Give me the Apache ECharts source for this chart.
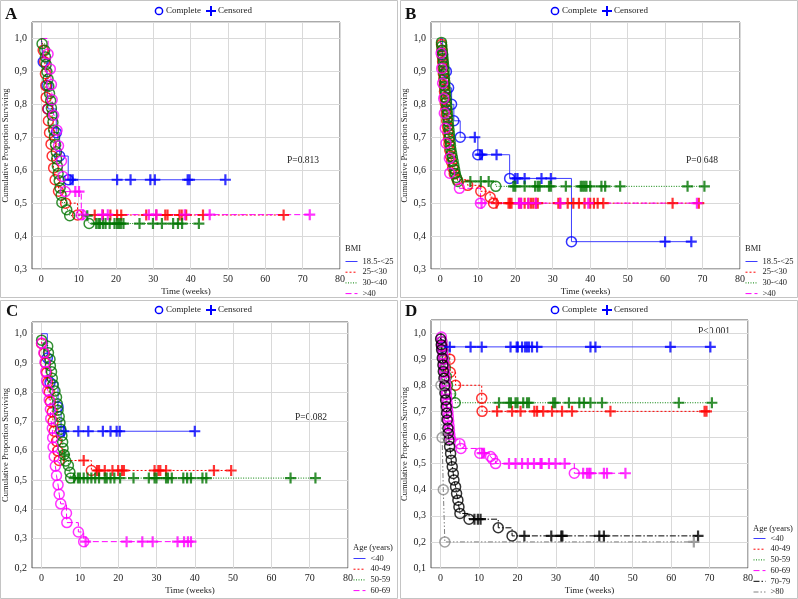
<!DOCTYPE html>
<html>
<head>
<meta charset="utf-8">
<style>
  html, body { margin: 0; padding: 0; background: #fff; }
  #main { width: 798px; height: 599px; }
</style>
<script src="https://cdn.jsdelivr.net/npm/echarts@6/dist/echarts.min.js"></script>
</head>
<body>
<div id="main"></div>
<script>
// ---- panel A : BMI ----
var aBlueEv  = [[0.5,0.929],[1.5,0.857],[1.8,0.786],[4.0,0.714],[4.9,0.643],[7.2,0.571]];
var aBlueCen = [[7.8,0.571],[8.4,0.571],[20.3,0.571],[23.9,0.571],[29.2,0.571],[30.4,0.571],[39.2,0.571],[39.7,0.571],[49.3,0.571]];
var aRedEv   = [[0.5,0.964],[0.9,0.929],[1.1,0.893],[1.2,0.857],[1.3,0.821],[1.7,0.786],[1.9,0.750],[2.2,0.714],[2.6,0.679],[2.9,0.643],[3.3,0.607],[3.7,0.571],[4.6,0.536],[6.5,0.500],[9.7,0.464]];
var aRedCen  = [[14.3,0.464],[16.5,0.464],[18.5,0.464],[20.3,0.464],[21.4,0.464],[28.1,0.464],[30.8,0.464],[33.2,0.464],[33.8,0.464],[37.0,0.464],[37.6,0.464],[38.8,0.464],[43.3,0.464],[64.9,0.464]];
var aGreenEv = [[0.2,0.984],[0.9,0.964],[1.1,0.944],[1.3,0.921],[1.5,0.899],[1.8,0.877],[2.0,0.855],[2.2,0.833],[2.5,0.811],[2.7,0.789],[2.9,0.767],[3.1,0.745],[3.3,0.722],[3.5,0.700],[3.8,0.678],[4.0,0.656],[4.1,0.634],[4.3,0.612],[4.5,0.590],[4.8,0.568],[5.0,0.546],[5.3,0.524],[5.5,0.502],[6.8,0.480],[7.6,0.462],[12.8,0.438]];
var aGreenCen = [[12.3,0.462],[14.7,0.438],[15.3,0.438],[15.7,0.438],[16.5,0.438],[17.2,0.438],[18.3,0.438],[19.6,0.438],[20.3,0.438],[20.8,0.438],[21.3,0.438],[22.0,0.438],[26.3,0.438],[29.9,0.438],[32.3,0.438],[35.3,0.438],[36.6,0.438],[37.7,0.438],[42.2,0.438]];
var aMagEv   = [[1.8,0.953],[2.4,0.907],[2.7,0.860],[2.9,0.814],[3.3,0.767],[4.2,0.721],[4.6,0.674],[5.4,0.628],[5.8,0.581],[6.4,0.535],[10.7,0.465]];
var aMagCen  = [[9.1,0.535],[10.1,0.535],[11.2,0.465],[16.3,0.465],[17.8,0.465],[28.8,0.465],[30.8,0.465],[38.4,0.465],[45.1,0.465],[71.9,0.465]];

// ---- panel B : BMI ----
var bBlueEv  = [[0.6,0.95],[1.6,0.90],[2.2,0.85],[3.0,0.80],[3.6,0.75],[5.3,0.70],[10.0,0.647],[18.5,0.575],[35.0,0.383]];
var bBlueCen = [[9.2,0.70],[10.6,0.647],[11.1,0.647],[15.0,0.647],[20.0,0.575],[20.6,0.575],[22.5,0.575],[27.0,0.575],[29.5,0.575],[60.0,0.383],[67.0,0.383]];
var bRedEv   = [[0.3,0.982],[0.4,0.964],[0.5,0.946],[0.6,0.929],[0.7,0.911],[0.8,0.893],[0.9,0.875],[1.0,0.857],[1.1,0.839],[1.2,0.821],[1.3,0.804],[1.5,0.786],[1.6,0.768],[1.7,0.750],[1.9,0.732],[2.0,0.714],[2.2,0.696],[2.3,0.679],[2.5,0.661],[2.7,0.643],[3.0,0.625],[3.3,0.607],[3.7,0.589],[4.5,0.571],[7.3,0.554],[10.8,0.536],[13.3,0.518],[14.2,0.500]];
var bRedCen  = [[15.0,0.5],[18.2,0.5],[18.6,0.5],[19.0,0.5],[21.0,0.5],[21.5,0.5],[22.5,0.5],[23.5,0.5],[24.2,0.5],[24.8,0.5],[25.5,0.5],[26.0,0.5],[31.5,0.5],[32.0,0.5],[34.0,0.5],[35.5,0.5],[37.0,0.5],[38.5,0.5],[40.0,0.5],[41.0,0.5],[42.0,0.5],[43.5,0.5],[62.0,0.5],[69.0,0.5]];
var bGreenEv = [[0.3,0.988],[0.4,0.976],[0.5,0.964],[0.6,0.952],[0.7,0.940],[0.8,0.928],[0.9,0.916],[1.0,0.904],[1.0,0.892],[1.1,0.880],[1.2,0.867],[1.2,0.855],[1.3,0.843],[1.4,0.831],[1.5,0.819],[1.6,0.807],[1.7,0.795],[1.8,0.783],[1.9,0.771],[2.0,0.759],[2.1,0.747],[2.2,0.735],[2.3,0.723],[2.4,0.711],[2.5,0.699],[2.6,0.687],[2.7,0.675],[2.8,0.663],[3.0,0.651],[3.2,0.639],[3.4,0.627],[3.6,0.614],[3.8,0.602],[4.0,0.590],[4.3,0.578],[4.7,0.566],[14.8,0.551]];
var bGreenCen = [[8.0,0.566],[10.8,0.566],[12.9,0.566],[19.5,0.551],[20.0,0.551],[22.5,0.551],[25.3,0.551],[26.0,0.551],[26.5,0.551],[29.0,0.551],[29.5,0.551],[33.5,0.551],[37.5,0.551],[38.0,0.551],[38.5,0.551],[39.0,0.551],[40.0,0.551],[43.0,0.551],[44.0,0.551],[48.0,0.551],[66.0,0.551],[70.5,0.551]];
var bMagEv   = [[0.2,0.955],[0.35,0.909],[0.6,0.864],[0.9,0.818],[1.05,0.773],[1.3,0.727],[1.5,0.682],[2.4,0.636],[2.5,0.591],[5.1,0.545],[10.7,0.500]];
var bMagCen  = [[11.0,0.5],[21.0,0.5],[21.6,0.5],[23.5,0.5],[25.5,0.5],[32.0,0.5],[39.5,0.5],[68.5,0.5]];

// ---- panel C : age ----
var cBlueEv  = [[1.5,0.917],[2.2,0.833],[4.3,0.750],[5.1,0.667]];
var cBlueCen = [[5.8,0.667],[9.6,0.667],[12.2,0.667],[16.0,0.667],[18.0,0.667],[19.6,0.667],[20.4,0.667],[40.0,0.667]];
var cRedEv   = [[0.0,0.967],[0.7,0.933],[1.0,0.900],[1.3,0.867],[1.6,0.833],[2.0,0.800],[2.3,0.767],[2.8,0.733],[3.0,0.700],[3.3,0.667],[3.9,0.633],[4.2,0.600],[4.6,0.567],[13.0,0.533]];
var cRedCen  = [[11.0,0.567],[14.5,0.533],[15.0,0.533],[16.5,0.533],[18.5,0.533],[20.0,0.533],[21.0,0.533],[21.5,0.533],[29.5,0.533],[30.5,0.533],[31.0,0.533],[32.5,0.533],[45.0,0.533],[49.5,0.533]];
var cGreenEv = [[0.0,0.978],[1.6,0.957],[1.8,0.935],[2.2,0.913],[2.3,0.891],[2.6,0.870],[2.8,0.848],[3.0,0.826],[3.5,0.804],[3.9,0.783],[4.1,0.761],[4.3,0.739],[4.6,0.717],[4.8,0.696],[5.0,0.674],[5.3,0.652],[5.5,0.630],[5.6,0.609],[5.9,0.587],[6.3,0.565],[7.0,0.550],[7.4,0.527],[7.6,0.507]];
var cGreenCen = [[6.0,0.587],[8.5,0.507],[9.5,0.507],[10.0,0.507],[11.0,0.507],[12.0,0.507],[13.0,0.507],[14.0,0.507],[15.0,0.507],[16.5,0.507],[17.0,0.507],[18.0,0.507],[19.0,0.507],[20.5,0.507],[24.0,0.507],[28.0,0.507],[29.5,0.507],[30.0,0.507],[32.5,0.507],[33.0,0.507],[34.0,0.507],[37.0,0.507],[38.0,0.507],[39.0,0.507],[42.0,0.507],[43.0,0.507],[65.0,0.507],[71.5,0.507]];
var cMagEv   = [[0.0,0.968],[0.6,0.935],[0.9,0.903],[1.1,0.871],[1.3,0.839],[1.6,0.806],[2.0,0.774],[2.3,0.742],[2.4,0.710],[2.8,0.677],[2.9,0.645],[3.0,0.613],[3.3,0.581],[3.6,0.548],[3.9,0.516],[4.3,0.484],[4.6,0.452],[5.0,0.419],[6.5,0.387],[6.6,0.355],[9.6,0.323],[11.0,0.290]];
var cMagCen  = [[11.5,0.29],[22.2,0.29],[26.3,0.29],[29.0,0.29],[35.5,0.29],[37.2,0.29],[38.2,0.29],[39.0,0.29]];

// ---- panel D : age ----
var dBlueEv  = [[0.4,0.947]];
var dBlueCen = [[2.4,0.947],[7.8,0.947],[10.7,0.947],[18.2,0.947],[19.8,0.947],[20.1,0.947],[21.2,0.947],[22.0,0.947],[22.5,0.947],[23.0,0.947],[23.8,0.947],[25.1,0.947],[39.0,0.947],[40.3,0.947],[59.8,0.947],[70.2,0.947]];
var dRedEv   = [[0.4,0.95],[2.4,0.90],[2.5,0.85],[3.9,0.80],[10.7,0.75],[10.8,0.70]];
var dRedCen  = [[14.7,0.7],[18.6,0.7],[20.8,0.7],[24.4,0.7],[25.1,0.7],[26.7,0.7],[29.0,0.7],[31.6,0.7],[34.2,0.7],[44.2,0.7],[68.7,0.7],[69.2,0.7]];
var dGreenEv = [[0.3,0.967],[0.6,0.933],[0.9,0.900],[1.2,0.867],[1.5,0.833],[1.8,0.800],[2.6,0.767],[3.8,0.733]];
var dGreenCen = [[15.2,0.733],[17.8,0.733],[18.3,0.733],[19.5,0.733],[20.0,0.733],[21.5,0.733],[22.5,0.733],[23.0,0.733],[29.3,0.733],[29.8,0.733],[33.4,0.733],[36.1,0.733],[37.3,0.733],[39.0,0.733],[42.0,0.733],[62.0,0.733],[70.6,0.733]];
var dMagEv   = [[0.2,0.985],[0.3,0.968],[0.4,0.951],[0.5,0.934],[0.6,0.917],[0.7,0.900],[0.8,0.883],[0.9,0.866],[1.0,0.849],[1.1,0.832],[1.2,0.815],[1.3,0.798],[1.4,0.781],[1.5,0.764],[1.6,0.747],[1.7,0.730],[1.8,0.713],[1.9,0.696],[2.0,0.679],[2.1,0.662],[2.2,0.645],[2.3,0.628],[2.4,0.611],[2.6,0.594],[5.0,0.576],[5.3,0.558],[10.2,0.540],[13.0,0.527],[13.5,0.518],[14.3,0.500],[34.8,0.463]];
var dMagCen  = [[10.8,0.54],[11.3,0.54],[17.8,0.5],[19.5,0.5],[21.2,0.5],[22.7,0.5],[24.3,0.5],[26.0,0.5],[26.3,0.5],[28.2,0.5],[29.9,0.5],[32.3,0.5],[37.1,0.463],[38.1,0.463],[38.6,0.463],[39.0,0.463],[42.5,0.463],[43.3,0.463],[48.1,0.463]];
var dBlackEv = [[0.0,0.977],[0.17,0.955],[0.26,0.936],[0.43,0.904],[0.6,0.878],[0.7,0.853],[0.87,0.827],[1.04,0.798],[1.13,0.770],[1.3,0.744],[1.47,0.718],[1.56,0.693],[1.73,0.667],[1.9,0.635],[2.0,0.616],[2.17,0.590],[2.34,0.565],[2.6,0.539],[2.77,0.513],[3.03,0.488],[3.3,0.462],[3.47,0.437],[3.9,0.411],[4.16,0.385],[4.5,0.360],[4.77,0.334],[5.03,0.309],[7.4,0.287],[15.0,0.254],[18.6,0.223]];
var dBlackCen = [[8.8,0.287],[9.7,0.287],[10.4,0.287],[21.8,0.223],[28.8,0.223],[31.4,0.223],[31.7,0.223],[41.3,0.223],[42.5,0.223],[67.0,0.223]];
var dGrayEv  = [[0.1,0.8],[0.4,0.6],[0.7,0.4],[1.1,0.2]];
var dGrayCen = [[65.9,0.2]];

var bmiNames = ['18.5-<25', '25-<30', '30-<40', '>40'];
var ageNames = ['<40', '40-49', '50-59', '60-69', '70-79', '>80'];
var xTicks = [0, 10, 20, 30, 40, 50, 60, 70, 80];
var pValues = ['P=0.813', 'P=0.648', 'P=0.082', 'P<0.001'];

var FONT = 'Liberation Serif';
var PLUS = 'path://M4,0H6V4H10V6H6V10H4V6H0V4H4Z';
var styles = {
  blue:    { line: '#3d3dff', mark: '#0000ff', dash: 'solid' },
  red:     { line: '#ff0000', mark: '#ff0000', dash: [2, 2] },
  green:   { line: '#008000', mark: '#007400', dash: [1, 1.5] },
  magenta: { line: '#ff00ff', mark: '#ff00ff', dash: [6, 3] },
  black:   { line: '#000000', mark: '#000000', dash: [6, 2, 1.5, 2] },
  gray:    { line: '#808080', mark: '#8a8a8a', dash: [5, 2, 1.5, 2, 1.5, 2] }
};

var grids = [
  { left: 32,  top: 22,  width: 308, height: 247, show: true, borderColor: '#555', borderWidth: 1 },
  { left: 431, top: 22,  width: 309, height: 247, show: true, borderColor: '#555', borderWidth: 1 },
  { left: 32,  top: 322, width: 316, height: 246, show: true, borderColor: '#555', borderWidth: 1 },
  { left: 431, top: 320, width: 317, height: 248, show: true, borderColor: '#555', borderWidth: 1 }
];
var yMin = [0.3, 0.3, 0.2, 0.1];
var yMax = [1.05, 1.05, 1.04, 1.05];

var xAxes = [], yAxes = [];
grids.forEach(function (g, i) {
  xAxes.push({
    type: 'value', gridIndex: i, min: -2.5, max: 80, interval: 2.5,
    name: 'Time (weeks)', nameLocation: 'middle', nameGap: 18,
    nameTextStyle: { fontFamily: FONT, fontSize: 9, color: '#222' },
    axisLine: { show: false }, axisTick: { show: false },
    axisLabel: {
      fontFamily: FONT, fontSize: 10, color: '#222', margin: 5,
      formatter: function (v) { return xTicks.indexOf(Math.round(v * 100) / 100) >= 0 ? String(v) : ''; }
    },
    splitLine: { show: true, lineStyle: { color: ['rgba(0,0,0,0)', '#d9d9d9', 'rgba(0,0,0,0)', 'rgba(0,0,0,0)'], width: 1 } }
  });
  yAxes.push({
    type: 'value', gridIndex: i, min: yMin[i], max: yMax[i], interval: 0.1,
    name: 'Cumulative Proportion Surviving', nameLocation: 'middle', nameGap: 19,
    nameTextStyle: { fontFamily: FONT, fontSize: 8.5, color: '#222' },
    axisLine: { show: false }, axisTick: { show: false },
    axisLabel: {
      fontFamily: FONT, fontSize: 10, color: '#222', margin: 5,
      formatter: function (v) {
        var r = Math.round(v * 10);
        if (Math.abs(v * 10 - r) > 1e-6) return '';
        return (r / 10).toFixed(1).replace('.', ',');
      }
    },
    splitLine: { show: true, lineStyle: { color: '#d9d9d9', width: 1 } }
  });
});

var series = [];
function addGroup(gi, name, ev, cen, st) {
  var pts = [[0, 1]].concat(ev, cen).sort(function (a, b) { return a[0] - b[0]; });
  series.push({
    type: 'line', name: name, xAxisIndex: gi, yAxisIndex: gi, data: pts,
    step: 'end', symbol: 'none', silent: true, animation: false,
    lineStyle: { color: st.line, width: 1, type: st.dash }, itemStyle: { color: st.line }, z: 2
  });
  series.push({
    type: 'scatter', name: name + ' complete', xAxisIndex: gi, yAxisIndex: gi, data: ev,
    symbol: 'circle', symbolSize: 10, silent: true, animation: false,
    itemStyle: { color: 'rgba(0,0,0,0)', borderColor: st.mark, borderWidth: 1.5 }, z: 3
  });
  series.push({
    type: 'scatter', name: name + ' censored', xAxisIndex: gi, yAxisIndex: gi, data: cen,
    symbol: PLUS, symbolSize: 11, silent: true, animation: false,
    itemStyle: { color: st.mark }, z: 4
  });
}

addGroup(0, bmiNames[0], aBlueEv, aBlueCen, styles.blue);
addGroup(0, bmiNames[1], aRedEv, aRedCen, styles.red);
addGroup(0, bmiNames[2], aGreenEv, aGreenCen, styles.green);
addGroup(0, bmiNames[3], aMagEv, aMagCen, styles.magenta);

addGroup(1, bmiNames[0], bBlueEv, bBlueCen, styles.blue);
addGroup(1, bmiNames[1], bRedEv, bRedCen, styles.red);
addGroup(1, bmiNames[2], bGreenEv, bGreenCen, styles.green);
addGroup(1, bmiNames[3], bMagEv, bMagCen, styles.magenta);

addGroup(2, ageNames[0], cBlueEv, cBlueCen, styles.blue);
addGroup(2, ageNames[1], cRedEv, cRedCen, styles.red);
addGroup(2, ageNames[2], cGreenEv, cGreenCen, styles.green);
addGroup(2, ageNames[3], cMagEv, cMagCen, styles.magenta);

addGroup(3, ageNames[0], dBlueEv, dBlueCen, styles.blue);
addGroup(3, ageNames[1], dRedEv, dRedCen, styles.red);
addGroup(3, ageNames[2], dGreenEv, dGreenCen, styles.green);
addGroup(3, ageNames[3], dMagEv, dMagCen, styles.magenta);
addGroup(3, ageNames[4], dBlackEv, dBlackCen, styles.black);
addGroup(3, ageNames[5], dGrayEv, dGrayCen, styles.gray);

function groupLegend(names, left, top) {
  return {
    data: names, orient: 'vertical', left: left, top: top, padding: 0,
    itemWidth: 12, itemHeight: 8, itemGap: 1.7, selectedMode: false,
    itemStyle: { color: 'rgba(0,0,0,0)', borderWidth: 0, opacity: 0 },
    lineStyle: { width: 1 },
    textStyle: { fontFamily: FONT, fontSize: 8.5, color: '#222', lineHeight: 8 }
  };
}

// panel frames, letters, top marker legend, p-values, legend titles
var graphics = [];
var panels = [
  { fx: 0.5, fy: 0.5, fw: 397, fh: 297, letter: 'A', lx: 5, ly: 6, ox: 0, oy: 0, px: 287, py: 160 },
  { fx: 400.5, fy: 0.5, fw: 397, fh: 297, letter: 'B', lx: 405, ly: 6, ox: 396, oy: 0, px: 686, py: 160 },
  { fx: 0.5, fy: 300.5, fw: 397, fh: 298, letter: 'C', lx: 6, ly: 303, ox: 0, oy: 299, px: 295, py: 417 },
  { fx: 400.5, fy: 300.5, fw: 397, fh: 298, letter: 'D', lx: 405, ly: 303, ox: 396, oy: 299, px: 698, py: 331 }
];
panels.forEach(function (p, i) {
  graphics.push({ type: 'rect', shape: { x: p.fx, y: p.fy, width: p.fw, height: p.fh },
    style: { fill: 'none', stroke: '#c4c4c4', lineWidth: 1 }, silent: true });
  graphics.push({ type: 'text', x: p.lx, y: p.ly,
    style: { text: p.letter, fontFamily: FONT, fontSize: 17, fontWeight: 'bold', fill: '#111' } });
  var cy = 11 + p.oy;
  graphics.push({ type: 'circle', shape: { cx: 159 + p.ox, cy: cy, r: 3.6 },
    style: { fill: 'none', stroke: '#0000ff', lineWidth: 1.5 } });
  graphics.push({ type: 'text', x: 166 + p.ox, y: cy,
    style: { text: 'Complete', fontFamily: FONT, fontSize: 9, fill: '#222', verticalAlign: 'middle' } });
  graphics.push({ type: 'rect', shape: { x: 206 + p.ox, y: cy - 1, width: 10, height: 2 }, style: { fill: '#0000ff' } });
  graphics.push({ type: 'rect', shape: { x: 210 + p.ox, y: cy - 5, width: 2, height: 10 }, style: { fill: '#0000ff' } });
  graphics.push({ type: 'text', x: 218 + p.ox, y: cy,
    style: { text: 'Censored', fontFamily: FONT, fontSize: 9, fill: '#222', verticalAlign: 'middle' } });
  graphics.push({ type: 'text', x: p.px, y: p.py,
    style: { text: pValues[i], fontFamily: FONT, fontSize: 9.5, fill: '#222', verticalAlign: 'middle' } });
});
graphics.push({ type: 'text', x: 345, y: 249, style: { text: 'BMI', fontFamily: FONT, fontSize: 8.5, fill: '#222', verticalAlign: 'middle' } });
graphics.push({ type: 'text', x: 745, y: 249, style: { text: 'BMI', fontFamily: FONT, fontSize: 8.5, fill: '#222', verticalAlign: 'middle' } });
graphics.push({ type: 'text', x: 353, y: 548, style: { text: 'Age (years)', fontFamily: FONT, fontSize: 8.5, fill: '#222', verticalAlign: 'middle' } });
graphics.push({ type: 'text', x: 753, y: 529, style: { text: 'Age (years)', fontFamily: FONT, fontSize: 8.5, fill: '#222', verticalAlign: 'middle' } });

var chart = echarts.init(document.getElementById('main'), null, { renderer: 'canvas' });
chart.setOption({
  backgroundColor: '#ffffff',
  animation: false,
  grid: grids,
  xAxis: xAxes,
  yAxis: yAxes,
  legend: [
    groupLegend(bmiNames, 345, 257),
    groupLegend(bmiNames, 745, 257),
    groupLegend(ageNames.slice(0, 4), 353, 554),
    groupLegend(ageNames, 753, 534)
  ],
  graphic: graphics,
  series: series
});
</script>
</body>
</html>
